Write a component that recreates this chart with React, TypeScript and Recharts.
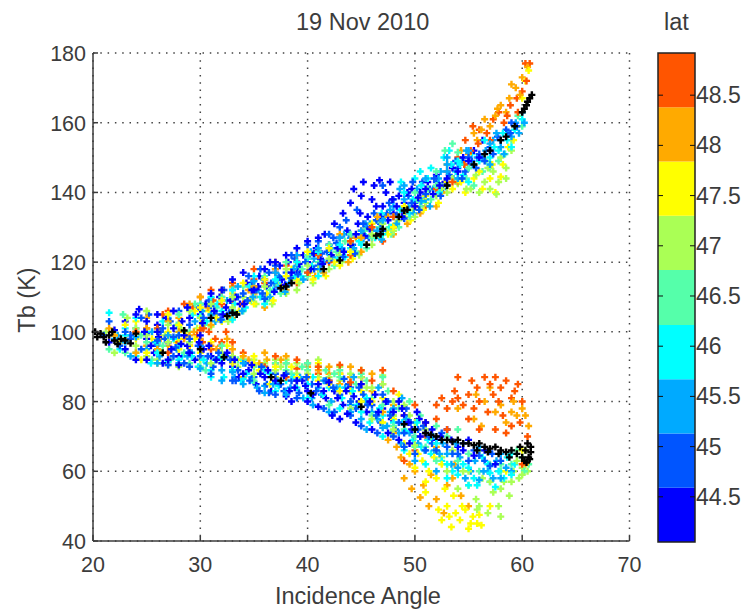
import React from 'react';
import {
  ScatterChart,
  Scatter,
  XAxis,
  YAxis,
  CartesianGrid,
  ReferenceArea,
} from 'recharts';

type Pt = [number, number];

const xTicks = [20, 30, 40, 50, 60, 70];
const yTicks = [40, 60, 80, 100, 120, 140, 160, 180];
const latTicks = [44.5, 45, 45.5, 46, 46.5, 47, 47.5, 48, 48.5];
const latEdges = [44.05, 44.59, 45.13, 45.67, 46.21, 46.76, 47.3, 47.84, 48.38, 48.92];
const bandColors = ['#0000ff', '#0055ff', '#00aaff', '#00ffff', '#55ffaa', '#aaff55', '#ffff00', '#ffaa00', '#ff5500'];

const band1: Pt[] = [[22,100.5],[23,103],[24.3,106.5],[25,103],[26,102],[26.8,104],[27.5,101],[28.3,103],[29,104],[30,105],[30.5,108],[31,104],[31.8,110],[32.4,107],[33,112],[33.7,108],[34.3,114],[35,110],[35.5,116],[36.2,113],[37,118],[37.6,115],[38.2,120],[39,117],[39.6,122],[40,120],[40.8,124],[41.2,121],[41.6,128],[42,125],[42.5,131],[43,127],[43.3,134],[43.7,129],[44,137],[44.3,141],[44.7,131],[45,139],[45.2,143],[45.6,133],[46,138],[46.2,142],[46.7,143.5],[47,136],[47.3,140],[47.7,143],[48,134],[48.5,139],[49,137],[49.7,141],[50.5,140],[51.2,143],[52,145],[52.8,143],[53.5,147],[54.5,150],[55.5,152],[56.3,155],
  [21.5,97],[23,95],[24,92],[25,98],[25.7,94],[26.5,91],[27,97],[28,93],[28.8,96],[29.5,92],[30.3,95],[31,93],[32,91],[33,90],[33.6,87],[34.5,89],[35.2,85],[36,87],[36.6,83],[37.4,85],[38,81.5],[38.8,84],[39.5,86],[40,83],[41,85],[41.7,81],[42.5,83],[43.3,79],[44,84],[44.8,80],[45.5,77],[46.3,82],[47,78],[47.8,75],[48.5,80],[49,76],[49.7,72],[50.4,75],[51,71],[52,69],[53,72],[54,67],[55,69]];
const band2: Pt[] = [[21.5,103],[23.5,99],[25.2,105],[26.3,100],[27.2,103],[28,106],[29,102],[29.8,107],[30.8,109],[31.5,105],[32.2,112],[33,106],[34,111],[34.8,114],[35.8,111],[36.4,117],[37.2,113],[38,117],[38.8,121],[39.3,118],[40.2,122],[41,119],[41.8,123],[42.4,127],[43,122],[43.6,132],[44.2,125],[44.6,135],[45,128],[45.5,130],[46.2,134],[46.8,131],[47.4,134],[48,138],[48.8,135],[49.4,139],[50,137],[50.7,143],[51.4,141],[52,143],[52.6,141],[53.2,145],[54,147],[54.7,146],[55.3,149],[56,151],[57,153],[57.7,156],[58.5,158],[59,160],
  [21,99],[22.5,96],[24.5,95],[26,96],[27.5,93],[28.5,91],[30,93],[31.2,90],[32.4,93],[33.5,89],[34.2,91],[35,87],[36.2,85],[37,88],[37.8,83],[38.5,86],[39.2,82.5],[40.4,85],[41.3,82],[42,86],[43,82],[43.8,85],[44.5,78],[45.2,82],[46,79],[46.8,74],[47.5,80],[48.2,72],[49.2,78],[50,70],[50.8,73],[51.6,68],[52.5,71],[53.5,65],[54.5,68],[55.5,66],[56.5,63],[57.2,65]];
const band3: Pt[] = [[22.3,99],[24,101],[25.5,100],[27,104],[28.5,100],[29.5,103],[30.2,106],[31.4,103],[32.5,109],[33.4,105],[34.5,109],[35.4,112],[36.5,110],[37.3,116],[38.3,114],[39,119],[40,117],[40.6,121],[41.5,120],[42.2,124],[43.2,124],[44,127],[45,126],[45.8,131],[46.5,129],[47.2,133],[48,136],[48.6,141],[49.4,136],[50.2,141],[51,138],[51.7,141],[52.4,146],[53,150],[53.6,144],[54.4,149],[55,147],[55.8,150],[56.6,152],[57.3,155],[58,153],[58.7,157],[59.4,160],[60,163],
  [22,98],[23.5,93],[25,95],[26.2,93],[27.8,95],[29.2,94],[30.6,91],[32,89],[33.2,87],[34.8,87],[36,84.5],[37.2,86],[38.4,84],[39.6,81],[41,84],[42.2,80],[43.5,84],[44.3,87],[45,75],[46,77],[46.6,84],[47.4,73],[48,78],[48.8,81],[49.5,71],[50.3,68],[51,74],[51.8,66],[52.6,68],[53.4,62],[54.2,64],[55.2,60],[56,67],[56.8,60],[57.6,63],[58.5,61]];
const band4: Pt[] = [[21.5,105.5],[23,101],[25,100],[26.5,103],[28,100],[29.3,105],[30.6,103],[32,106],[33.2,108],[34.2,107],[35.6,110],[36.8,112],[38,113],[39.4,116],[40.4,119],[41.5,117],[42.8,121],[44,124],[45.2,128],[46.3,127],[47,131],[48,133],[48.7,143],[49.5,134],[50,144],[50.8,138],[51.5,147],[52,141],[52.7,150],[53.2,152],[53.8,146],[54.5,145],[55.3,151],[56,149],[57,150],[57.8,152],[58.6,155],[59.3,158],[60,161],
  [22.5,95],[24,93],[25.4,91],[27,91.5],[28.3,93],[29.8,90],[31,89],[32.2,87],[33.8,86],[35,85.5],[36.5,88],[38,86],[39,84],[40.5,87],[42,84],[43.2,81],[44.6,79],[45.8,74],[47,76],[47.8,71],[48.8,74],[49.8,69],[50.6,67],[51.5,65],[52.5,63],[53.5,60],[54.5,62],[55.5,58],[56.3,64],[57,57],[57.8,60],[58.6,64],[59.3,62]];
const band5: Pt[] = [[22.8,105],[24.5,99],[26,101],[27.8,102],[29,100],[30.4,102],[31.5,107],[32.8,104],[34,106],[35,113],[36.2,109],[37.5,111],[38.5,115],[40,116],[41,120],[42.5,119],[43.5,126],[44.5,123],[45.5,124],[46.7,130],[47.6,130],[48.5,130],[49.5,133],[50.5,136],[51.5,138],[52.5,142],[53.5,154],[54,143],[54.8,144],[55.5,142],[56.3,146],[57,147],[57.8,149],[58.4,151],[59,155],[60,159],
  [21.5,95],[23,94],[25.5,92],[27.2,92],[29,91],[30.5,89],[32,92],[33.5,92],[35,90],[37,91],[38.5,88],[40,89],[41.7,89],[43,87],[44.5,85],[46,81],[47.5,83],[48.5,78],[49.5,80],[50.5,76],[52,73],[53,70],[54,72],[55,65],[56,66],[57,62],[58,60],[59,62],[60,64],[60.6,62]];
const band6: Pt[] = [[21.2,100],[23.2,104],[25,106],[26.7,99],[28.2,101],[29.7,101],[31,101.5],[32.6,103],[34,110],[35.2,108],[36.7,108],[38,111],[39.2,114],[40.5,114],[42,118],[43.2,120],[44.8,122],[46,125],[47.3,129],[48.5,132],[49.8,135],[51,137],[52,139],[53,140],[54,142.5],[54.6,148],[55.2,141],[55.7,145],[56,140],[56.5,143],[57,141],[57.3,146],[57.8,143],[58,150],[58.5,147],[59,152],
  [22,94],[24,96],[26,92],[28,90],[30,92],[32,94],[33.5,90],[35,92],[36,91],[37.5,90],[39,88],[41,87],[43,86],[44,88],[45.5,84],[47,85],[48,80],[49.5,76],[51,72],[52.5,64],[53.5,66],[54.5,60],[55,56],[55.7,52],[56.3,58],[56.8,48],[57.3,54],[57.8,50],[58.3,57],[58.8,53],[59.2,60],[59.7,58],[60,61],[60.5,60],[55.8,49],[58,47]];
const band7: Pt[] = [[22,99],[24,103],[25.5,98],[27,100],[28.7,99],[30,101],[30.8,106],[32,103],[33.6,106],[35,108],[36.2,111],[37.8,112],[39,115],[40.2,117],[41.7,116],[43,119],[44.2,121],[45.5,125],[46.8,127],[48.2,131],[49.6,132],[50.8,135],[52.2,137],[53.5,141],[54.7,140],[55.5,144],[56.3,141],[57,144],[57.5,140],[58.2,148],[58.7,153],[59.5,159],[60,167],[60.3,172],[60.6,175],
  [22.5,97],[24.5,92],[26.3,94],[27.8,97],[29,96],[30,94],[31,97],[32.5,96],[33.8,92],[35.5,89],[37,87],[38.5,90],[41,86],[43,88],[45,83],[47,81],[48.5,82],[49.5,65],[50,61],[50.7,63],[51.3,60],[52,58],[52.5,46],[53,50],[53.4,44],[53.8,48],[54.2,46],[54.7,49],[55,43.5],[55.4,47],[55.8,45],[56.2,44.5],[51,54],[52.8,55],[58.5,60]];
const band8: Pt[] = [[21.5,101],[23,98],[25,104],[26.3,98],[28,104],[29.4,100],[30.7,107],[32,110],[33,104],[34.5,112],[36,107],[37.5,113],[39,118],[40.7,116],[42.2,122],[43.8,120],[45,123],[46.5,128],[48,128],[49.3,131],[50.5,134],[52,136],[53,148],[54.3,152],[55.5,157],[56.5,161],[57.5,162],[58,165],[58.8,167],[59.4,170],[60,173],[60.5,176],
  [23,97],[25,96],[27,96],[28.5,98],[30,98],[31.5,95],[33,95],[34.5,92],[36.2,92],[38,91],[40,90],[42,88],[44,87],[46,83],[48,79],[48.7,64],[49.5,62],[50,60],[50.8,56],[51.5,59],[52,52],[52.7,48],[53,56],[53.7,62],[54.3,53],[55,50],[54,78],[55.5,75],[56.5,80],[57,84],[58,79],[59,77],[59.5,76],[60,78],[60.3,62]];
const band9: Pt[] = [[25,101],[26.5,105],[28,102],[29.3,107],[30.3,103],[31.2,109],[33,109],[35,115],[37,117],[39,114],[41,118],[43,123],[45,129],[47,126],[49,134],[51,136],[53,146],[54,150],[54.7,155],[55.4,159],[56,158],[56.7,157],[57.3,161],[57.8,163],[58.3,160],[58.9,165],[59.5,167],[60,169],[60.3,177],[60.7,177],
  [29,96],[29.7,99],[30.2,97],[30.8,100],[31.4,98],[31.9,96],[32.4,100],[33,97],[30.3,101],
  [31,95],[33,93],[35,91],[37,91],[39,89.5],[41,88],[43,88],[45,87],[47,85],[49,76],[49,63],[50,66],[51,70],[52,75],[53,78],[53.5,80],[54,81],[54.5,79],[55,82],[55.3,86],[55.8,84],[56,80],[56.5,87],[57,85],[57.3,82],[57.8,80],[58,84],[58.5,86],[59,81],[59.3,83],[55.5,78],[52.5,81],[53.7,83],[59.8,74],[58.5,71],[57.5,72],[60,62],[60.5,70]];

// second pass over the picture, filling in the dense parts of both arms
const band1b: Pt[] = [[30.2,102.5],[31.3,106],[32.1,105],[32.8,109],[33.3,110],[34.1,108],[34.8,112],[35.4,113],[36,115],[36.9,111.5],[37.4,119],[37.9,113.5],[38.5,117],[39.2,119.5],[40.3,118],[40.6,122.5],[41.4,119.5],[42.2,122],[42.8,124],[43.4,123],[44,125],[44.5,128],[44.9,134],[45.3,127.5],[45.8,129.5],[46.4,136],[46.8,133],[47.5,132],[47.9,138],[48.3,136],[48.8,133],[49.3,140],[50,136],[50.3,138.5],[51,141],[51.7,139.5],[52.3,142],[53,144],[54,146],[55,149],[56,150],[57,152],
  [24.8,100],[25.4,96],[26.1,98.5],[27.3,95],[28.2,96.5],[29,94],[29.9,97],[30.8,96],[31.5,92],[32.5,94],[33.2,92],[34,88],[34.8,90.5],[35.6,88],[36.3,89],[37,86],[37.8,87.5],[38.3,83],[39,86],[39.8,84.5],[40.5,82],[41.5,83],[42,85.5],[42.8,81],[43.6,83],[44.3,81.5],[45,85],[45.8,80],[46.6,77],[47.3,80],[48,77],[48.8,78],[49.4,74],[50.2,77],[51,74],[51.6,72],[52.4,70],[53.4,69],[54.5,66],[55.5,64.5],[56.5,66],[57.5,62]];
const band2b: Pt[] = [[30.3,104],[31,107.5],[31.9,103.5],[32.7,105.5],[33.5,110],[34.4,109],[35.2,112],[36,109.5],[36.6,114],[37.4,115.5],[38.4,115.5],[39.1,116.5],[39.8,120],[40.6,118],[41.3,122.5],[42,120.5],[42.7,125.5],[43.3,121.5],[43.9,128],[44.4,122.5],[45.2,131],[45.7,127],[46.4,132],[47,129],[47.6,137],[48.3,133.5],[49,132.5],[49.7,137],[50.4,135],[51,139.5],[51.8,144],[52.4,139],[53,142],[53.8,149],[54.4,144],[55,150],[55.7,147],[56.5,149],[57.3,151],[58,155],[58.9,157],[59.5,159],
  [23.5,98],[25,99.5],[26.7,98],[27.7,95.5],[28.9,94],[29.8,96],[30.7,93],[31.7,94],[32.8,92],[33.3,86],[34.6,86],[35.7,90],[36.4,82.5],[37.5,85],[38,88],[39,86],[39.9,87],[40.8,83],[41.7,86],[42.4,84],[43.4,86.5],[44,80],[44.8,84],[45.6,79],[46.4,76],[47,82],[47.7,76],[48.5,74],[49,71],[49.6,74],[50.3,72],[51.3,70],[52,66],[53,67],[54,65],[55,63],[56,64.5],[57,61.5],[58,63]];
const band3b: Pt[] = [[30,108],[31,105],[32,103.5],[33,110],[33.9,106],[34.9,110],[35.9,115],[36.9,114],[37.9,111.5],[38.7,118],[39.6,115],[40.3,123],[41.2,118],[42.3,121.5],[43.4,128],[44.3,124],[45.4,131],[46,129],[46.9,126.5],[47.7,135],[48.3,131],[49,138],[49.9,134],[50.6,137.5],[51.4,136],[52.2,144],[53,146],[54,144],[54.8,152],[55.4,148],[56.3,150],[57,148],[57.6,157],[58.3,151],[59,156],[59.7,157],[60.2,160],
  [23,97],[25.8,97],[27,94],[28.8,93],[30,96],[31.4,92],[33,88.5],[34,91],[35.3,84],[36.8,85],[38,83],[39.3,87],[40.4,81],[41.5,86],[42.7,84],[44,79],[45.4,80],[46.5,75],[47.7,77],[48.5,71],[49.2,75],[50,72],[50.9,66],[51.7,70],[52.3,65],[53,65],[53.8,68],[54.7,58],[55.6,63],[56.4,60],[57.3,58],[58,65],[59,60]];
const band4b: Pt[] = [[30,104.5],[31.6,108],[33,103.5],[34.6,113],[36,108],[37.2,114],[38.8,116],[40,121],[41,116],[42.1,122],[43.5,121.5],[44.8,126],[46,130],[46.9,134],[47.8,130],[48.6,135],[49.8,138],[50.6,142],[51.2,144],[52.3,140],[53.4,148],[54.2,148],[55,143],[56.5,155],[57.4,153],[58.2,157],[59,153],
  [23,99],[26,94],[28,96],[29.2,93],[30.3,92],[31.8,92.5],[33,89],[34.3,88],[36,89],[37.3,84.5],[38.7,87],[40,85],[41.4,82],[43,84],[44.2,83],[45.5,81],[46.7,78],[48,74],[49.1,71.5],[50.2,74],[51.2,69],[52,68],[53,62],[54,59],[55,61],[55.8,56],[56.8,62],[57.5,55.5],[58.3,58],[59,65]];
const band5b: Pt[] = [[29.5,108],[31,105],[33,106],[34.7,109],[36.5,112],[38,116],[39.5,118],[41,122],[42.7,123],[44,125],[45.3,129],[46.5,132],[47.8,128],[49,135],[50.2,138],[51.2,141],[52,146],[52.8,152],[55,147],[56.6,149],[58,155],[59.6,162],
  [24,94],[26.5,96],[28.5,94],[30,90],[31.5,92],[34,92],[36,90],[38,89],[39.5,90],[41,90],[42.5,88],[44,83],[45.5,86],[47,79],[48,76],[49,72],[50,70],[51,67],[52,66],[54,63],[56,60],[58,62],[59.5,66],[60.2,60]];
const band6b: Pt[] = [[24,101],[27,102],[30,104],[33,107],[35,110],[37,114],[39,112],[41,118],[43,122],[45,127],[47,131],[49,133],[50.5,138],[52.5,141],[53.5,144],[54.8,141],[55.5,148],[56.8,147],[57.6,139.5],[58.5,144],
  [25,93],[27,90.5],[29,97],[31,91],[33,93],[35,88],[37,89],[38,92],[40,88],[42,87],[45,87],[46,84],[48,76],[49,79],[50,74],[51.5,70],[53,60],[54,55],[55,60],[56,50],[57,57],[58,55],[59,57],[60,59],[59.5,63],[60.3,66]];
const band7b: Pt[] = [[23,102],[26,100],[28,102],[29.5,106],[31.5,104],[33,111],[34.6,109],[36.8,109],[38.5,118],[40.5,115],[42.5,120],[44,125],[46,127],[47.5,128],[49,136],[51,139],[53,143],[54.3,143],[56,146],[57.2,148],[58,144.5],[59.2,155],
  [24,98],[26,91],[28,95],[29.5,98],[31.5,92],[33,91],[35,93],[36.5,85],[38,88],[40,87],[42,85],[44,83],[46,80],[48,75],[49,68],[50.3,65],[51,57],[51.8,64],[52.2,49],[53.2,47],[53.6,53],[54.4,50],[55.2,45],[56,47.5],[57,50],[52.5,62],[60,66]];
const band8b: Pt[] = [[24,100],[27,103],[29,108],[31,102],[33,113],[35,111],[38,112],[40,121],[41.5,117],[43,125],[44.5,127],[47.5,133],[49,136],[50.5,138],[52.5,140],[54,143],[55,151],[55.8,155],[56.2,158],[57,159],[57.7,164],[58.5,163],[59,171],[59.8,168],
  [22,99],[24,94],[26,95],[29,99],[31,96],[32.5,98],[34,87],[35.5,91],[37.5,92],[39,86],[41,89],[43,85],[45,85],[47,77],[47.5,69],[48.3,67],[49,58],[49.7,55],[50.5,52.5],[51.3,50],[53.5,58],[52,67],[55.7,82],[56.2,73],[57.5,77],[58.5,74],[59.2,80],[60.3,76],[60.6,73]];
const band9b: Pt[] = [[27,106],[30,110],[32,108],[34,108],[36,114],[38,119],[40,117],[42,120],[44,122],[46,127],[48,130],[50,136],[52,141],[53.5,143],[54.6,148],[55.2,152],[55.9,154],[57,155],[58.6,162],[59.6,163],[60.4,172],
  [24,100],[26,97],[28,97],[30,100.5],[32,97],[34,94],[36,90],[38,87],[40,91],[42,86],[44,85.5],[46,86],[48,83],[50,79],[51,74],[52,79],[53,72],[54,87],[55,75],[56,72],[56.8,77],[57.5,87],[58.2,76],[59,73],[59.6,85],[60,80]];

// third pass: the outer edges of the arms
const band1c: Pt[] = [[35,112],[36,118],[37,120],[38,122],[39,124],[40,126],[41,127],[36.5,120],[34,117],[33,115],[32,112],[31,111],[42.3,76],[43,75],[43.7,76.5],[44.5,74],[46,72],[47.5,71],[48.5,69],[49.5,68],[50.5,70],[38.5,80],[40,80],[41,78.5],[24,105],[26,105],[27.5,106],[28.8,107],[25,92],[27,92],[28,90.5],[26,100],[28.5,99],[30,99]];
const band2c: Pt[] = [[34.5,116],[35.6,118],[37,119],[38.5,122],[40,125],[41,126],[42,128],[43,130],[47,142],[49.8,143],[41.5,78],[42.5,77],[44,76],[45,73],[46.5,71],[48,70],[49,67],[50,65],[51,66],[39,81],[37,82],[35.5,83],[33,86],[31,88],[29,90],[27,90.5],[24.5,104],[26.5,101],[28,99],[23,100],[26,97.5],[27.5,98.5],[29,98]];
const band3c: Pt[] = [[33.5,113],[35,114.5],[37,117],[39,122],[41,124],[43,127],[45,129],[47,132],[49,142],[51,144],[53,148],[55,152],[57,154],[42,77],[44,77],[45.5,72],[47,72.5],[48.7,68],[50,63],[52,60],[54,61],[56,57.5],[58,58],[40.5,79],[38,82],[36,82.5],[34,85],[32,86],[30,89.5],[28,91],[26,91],[24,98.5],[27,99]];
const band4c: Pt[] = [[31,110],[33,112],[35,116],[37,115],[39,120],[41,123],[43,125],[45,125],[47,128],[49,140],[50.5,146],[54,149],[43,78],[45,77],[47,70],[49,66],[51,62],[53,58],[55,56],[57,59.5],[59,59],[40,81],[37,83],[34,86.5],[31,87],[28,92],[26,97],[24,104],[27.5,98]];
const band5c: Pt[] = [[28,105],[30,108],[32,110],[34,113],[36,116],[38,120],[40,122],[42,125],[44,128],[46,127],[48,133],[50,140],[52,142],[54,151.5],[42,79],[44,80],[46,76],[48,73],[50,67],[52,63],[35,86],[32,96],[38,91],[40,91],[43,89],[45,88],[47,87],[25,97],[28,99]];
const band6c: Pt[] = [[29,106],[31,108],[33,110],[36,113],[38,118],[40,119],[42,121],[44,126],[46,128],[48,129],[50,133],[35,90.5],[37,92],[39,91],[41,92],[43,90],[45,89],[47,87.5],[44,78],[46,75],[48,72],[50,67.5],[27,97],[25,99]];
const band7c: Pt[] = [[27,105],[30,107],[32,109],[34,114],[36,115],[38,116],[40,123],[42,124],[44,123],[46,131],[48,130],[35,91],[37,90],[39,87],[41,91],[43,83],[45,80],[47,74],[25,94],[28,98],[26,98]];
const band8c: Pt[] = [[30,110],[32,112],[35,113],[37,118],[39,120],[41,123],[43,128],[45,127],[46.5,133],[34,93],[36,94],[38,93],[40,87],[42,90],[44,90],[46,88],[48,71],[25,101],[28,100],[27,99]];
const band9c: Pt[] = [[28.5,108],[31,112],[33,114],[35,118],[37,120],[39,122],[41,122],[44,126],[46,130],[48,133],[37,93],[39,92],[41,90],[43,90.5],[45,89],[47,89],[26,101],[27,94]];

const blackPts: Pt[] = [[20.2,100],[20.7,99.5],[21,98.5],[21.5,99],[22,97.5],[22.6,98],[20.4,98.5],[21.2,97],[21.8,100],[22.3,96.5],[23,97.5],[23.5,96.7],[24,99.5],
  [28.5,100.4],[31,104],[32.5,104.5],[33,105.5],[33.4,105],[37.5,112.5],[38,113],[38.5,114],[41.5,118],[43,120.5],[45.5,125],[46.4,127.6],[46.8,128],[47,129.5],[48.5,133],[49,134.8],[49.3,135],[53,142],[55.5,148],[56.5,151],[57,152],[58,155],[58.5,156],[59.3,159],[60,163],[60.2,164],[60.5,166],[60.9,168],[60.7,167],[60.4,165],
  [26.5,94],[30,95],[32.2,92.7],[36.6,87],[37.5,86],[40.3,82.4],[45,78.5],[49,73.5],[50,72],[51,71],[51.5,70.5],[52,70],[52.5,69],[53,69],[53.5,68.5],[54,69],[54.5,68],[55,68],[55.5,67.5],[55.8,66],[56,68],[56.5,67],[56.8,65.5],[57,66.5],[57.5,67],[57.8,65],[58,66],[58.5,65.5],[58.8,64],[59,66],[59.5,65],[59.8,67],[60,64],[60.2,63],[60.3,66],[60.4,62.5],[60.5,68],[60.6,64],[60.7,63.5],[60.8,67],[60.8,65.5]];

const bands = [
  [...band1, ...band1b, ...band1c],
  [...band2, ...band2b, ...band2c],
  [...band3, ...band3b, ...band3c],
  [...band4, ...band4b, ...band4c],
  [...band5, ...band5b, ...band5c],
  [...band6, ...band6b, ...band6c],
  [...band7, ...band7b, ...band7c],
  [...band8, ...band8b, ...band8c],
  [...band9, ...band9b, ...band9c],
];

// deal the bands out in turn so the colours overlap like the original plot
const rows: { angle: number; tb: number; band: number }[] = [];
const longest = Math.max(...bands.map((b) => b.length));
for (let i = 0; i < longest; i++) {
  bands.forEach((b, band) => {
    if (b[i]) rows.push({ angle: b[i][0], tb: b[i][1], band });
  });
}
const blackRows = blackPts.map(([angle, tb]) => ({ angle, tb }));
const latRows = latEdges.map((y) => ({ x: 0.5, y }));

const INK = '#3c3c3c';
const FONT = '"Liberation Sans", Arial, sans-serif';
const textStyle = { fontFamily: FONT, fontSize: 21.5, fill: INK };

const Plus = ({ cx, cy, color }: any) => (
  <path d={`M${cx - 3.5},${cy}H${cx + 3.5}M${cx},${cy - 3.5}V${cy + 3.5}`} stroke={color} strokeWidth={2.4} fill="none" />
);

const XTick = ({ x, y, payload }: any) => (
  <g>
    <line x1={x} x2={x} y1={y} y2={y - 5} stroke={INK} strokeWidth={1.5} />
    <text x={x} y={y + 31} textAnchor="middle" style={textStyle}>{payload.value}</text>
  </g>
);

const YTick = ({ x, y, payload }: any) => (
  <g>
    <line x1={x} x2={x + 5} y1={y} y2={y} stroke={INK} strokeWidth={1.5} />
    <text x={x - 7} y={y + 8} textAnchor="end" style={textStyle}>{payload.value}</text>
  </g>
);

const LatTick = ({ x, y, payload }: any) => (
  <g>
    <line x1={x} x2={x - 5} y1={y} y2={y} stroke="#111" strokeWidth={1} />
    <line x1={x - 37} x2={x - 32} y1={y} y2={y} stroke="#111" strokeWidth={1} />
    <text x={x + 1} y={y + 8} textAnchor="start" style={{ ...textStyle, fontSize: 23 }}>{payload.value}</text>
  </g>
);

const labelStyle: React.CSSProperties = {
  position: 'absolute',
  fontFamily: FONT,
  fontSize: 23.5,
  color: INK,
  whiteSpace: 'nowrap',
  lineHeight: '24px',
};

export default function App() {
  return (
    <div style={{ position: 'absolute', left: 0, top: 0, width: 747, height: 610, background: '#fff', overflow: 'hidden' }}>
      <div style={{ ...labelStyle, left: 296, top: 10 }}>19 Nov 2010</div>
      <div style={{ ...labelStyle, left: 664, top: 10 }}>lat</div>
      <div style={{ ...labelStyle, left: 275, top: 584 }}>Incidence Angle</div>
      <div style={{ ...labelStyle, left: -13, top: 288, width: 80, textAlign: 'center', transform: 'rotate(-90deg)' }}>Tb (K)</div>

      <div style={{ position: 'absolute', left: 0, top: 0 }}>
        <ScatterChart width={660} height={610} margin={{ top: 53, right: 30.5, bottom: 0, left: 0 }}>
          <CartesianGrid stroke="#444" strokeDasharray="1.5 5.8" strokeWidth={1.5} />
          <XAxis
            type="number"
            dataKey="angle"
            domain={[20, 70]}
            ticks={xTicks}
            interval={0}
            height={69}
            tickSize={0}
            tickMargin={0}
            tickLine={false}
            axisLine={{ stroke: INK, strokeWidth: 1.5 }}
            tick={<XTick />}
          />
          <YAxis
            type="number"
            dataKey="tb"
            domain={[40, 180]}
            ticks={yTicks}
            interval={0}
            width={93}
            tickSize={0}
            tickMargin={0}
            tickLine={false}
            axisLine={{ stroke: INK, strokeWidth: 1.5 }}
            tick={<YTick />}
          />
          <Scatter
            data={rows}
            isAnimationActive={false}
            shape={(p: any) => <Plus cx={p.cx} cy={p.cy} color={bandColors[p.payload.band]} />}
          />
          <Scatter
            data={blackRows}
            isAnimationActive={false}
            shape={(p: any) => <Plus cx={p.cx} cy={p.cy} color="#000" />}
          />
        </ScatterChart>
      </div>

      <div style={{ position: 'absolute', left: 640, top: 0 }}>
        <ScatterChart width={107} height={610} margin={{ top: 53, right: 0, bottom: 68, left: 18 }}>
          <XAxis type="number" dataKey="x" domain={[0, 1]} hide />
          <YAxis
            type="number"
            dataKey="y"
            orientation="right"
            domain={[44.05, 48.92]}
            ticks={latTicks}
            interval={0}
            width={52}
            tickSize={0}
            tickMargin={0}
            tickLine={false}
            axisLine={false}
            tick={<LatTick />}
          />
          <Scatter data={latRows} isAnimationActive={false} shape={() => <g />} />
          {bandColors.map((c, i) => (
            <ReferenceArea key={c} x1={0} x2={1} y1={latEdges[i]} y2={latEdges[i + 1]} fill={c} fillOpacity={1} stroke="none" />
          ))}
          <ReferenceArea x1={0} x2={1} y1={44.05} y2={48.92} fill="none" stroke="#222" strokeWidth={1.5} />
        </ScatterChart>
      </div>
    </div>
  );
}
